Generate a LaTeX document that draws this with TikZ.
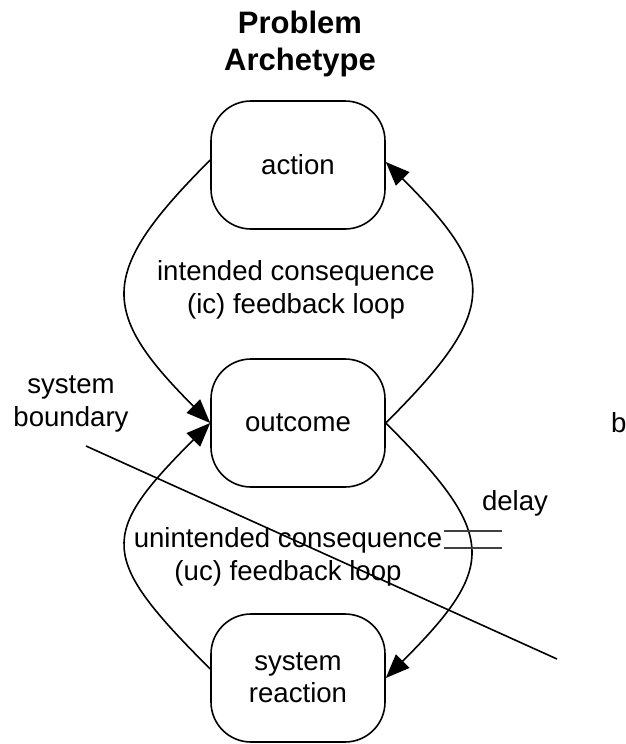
\documentclass[tikz,border=0pt]{standalone}
\usepackage{fontspec}
\setmainfont{Liberation Sans}
\usetikzlibrary{arrows.meta}
\tikzset{
  stock/.style={draw=black, line width=1.6pt, rounded corners=40pt, minimum width=174pt, minimum height=128pt, align=center, font=\fontsize{27.6}{32}\selectfont, inner sep=0pt},
  lbl/.style={align=center, font=\fontsize{27.6}{32.5}\selectfont, inner sep=0pt},
  ttl/.style={align=center, font=\fontsize{31}{37}\selectfont\bfseries, inner sep=0pt},
  link/.style={line width=1.6pt, -{Triangle[length=24pt,width=19pt]}},
  bound/.style={line width=1.6pt},
  delaymark/.style={line width=1.4pt, draw=black!75},
}
\begin{document}
\begin{tikzpicture}[x=1pt,y=-1pt]
\useasboundingbox (0,0) rectangle (626,744);
\node[ttl] (title) at (300,44) {Problem\\Archetype};
\node[stock] (action) at (298,165) {action};
\node[stock] (outcome) at (298,423) {outcome};
\node[stock] (reaction) at (298,678) {system\\reaction};
\node[lbl] (ic) at (296,290) {intended consequence\\(ic) feedback loop};
\node[lbl] (uc) at (288,557) {unintended consequence\\(uc) feedback loop};
\node[lbl] (sb) at (71,404) {system\\boundary};
\node[lbl, anchor=west] (b) at (611,423) {b};
\node[lbl] (delay) at (515,503) {delay};
% feedback links
\draw[link] ([yshift=5pt]action.west) .. controls +(-112,112) and +(-112,-112) .. (outcome.west);
\draw[link] (outcome.east) .. controls +(113,-113) and +(113,113) .. ([yshift=3pt]action.east);
\draw[link] ([yshift=9pt]reaction.west) .. controls +(-112,-112) and +(-112,112) .. (outcome.west);
\draw[link] (outcome.east) .. controls +(112,112) and +(112,-112) .. (reaction.east);
% system boundary line
\coordinate (bs) at (86,446);
\coordinate (be) at (557,659);
\draw[bound] (bs) -- (be);
% delay marks
\coordinate (d1a) at (444,531);
\coordinate (d1b) at (502,531);
\coordinate (d2a) at (444,548);
\coordinate (d2b) at (502,548);
\draw[delaymark] (d1a) -- (d1b);
\draw[delaymark] (d2a) -- (d2b);
\end{tikzpicture}
\end{document}
